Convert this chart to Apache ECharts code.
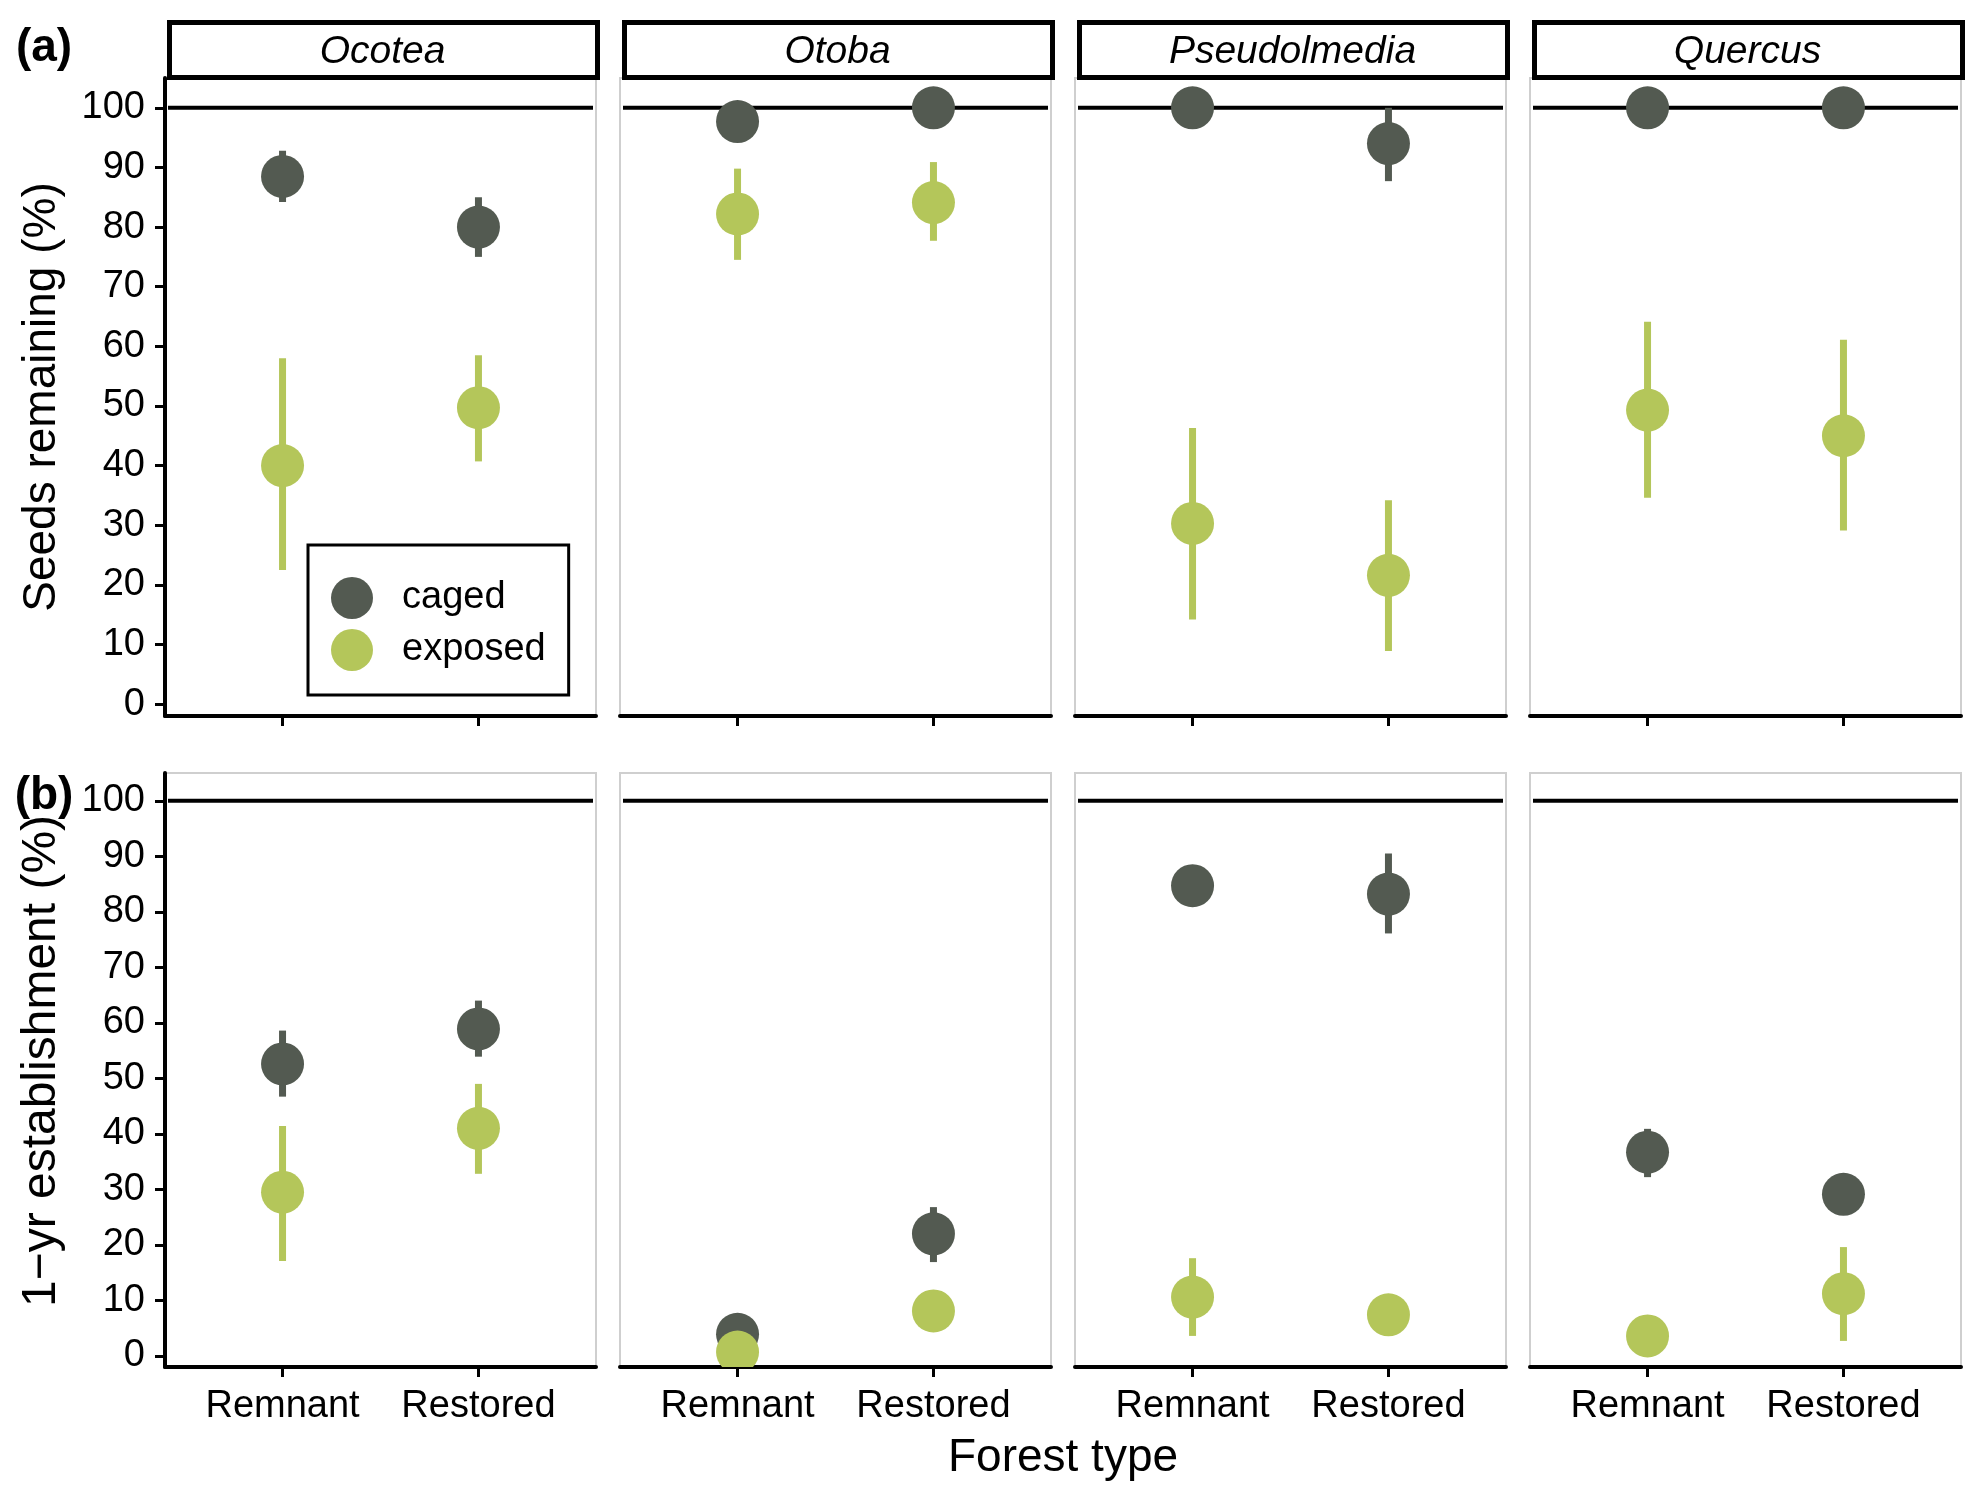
<!DOCTYPE html>
<html>
<head>
<meta charset="utf-8">
<script src="https://cdn.jsdelivr.net/npm/echarts@6/dist/echarts.min.js"></script>
<style>
html,body{margin:0;padding:0;background:#fff;}
#chart{width:1984px;height:1506px;}
</style>
</head>
<body>
<div id="chart"></div>
<script>
// ---------------- DATA ----------------
const species = ['Ocotea', 'Otoba', 'Pseudolmedia', 'Quercus'];
const forestTypes = ['Remnant', 'Restored'];
const groups = ['caged', 'exposed'];
const yTickValues = [0, 10, 20, 30, 40, 50, 60, 70, 80, 90, 100];
const referenceValue = 100;

// (a) Seeds remaining (%) — per species: [Remnant, Restored]
const seedsCagedMean   = [[88.5, 80.0], [97.7, 100], [100, 94.0], [100, 100]];
const seedsCagedLow    = [[84.2, 75.0], [null, null], [null, 87.7], [null, null]];
const seedsCagedHigh   = [[92.8, 85.0], [null, null], [null, 100], [null, null]];
const seedsExposedMean = [[40.0, 49.7], [82.2, 84.1], [30.3, 21.6], [49.3, 45.0]];
const seedsExposedLow  = [[22.5, 40.7], [74.5, 77.7], [14.2, 8.9], [34.6, 29.1]];
const seedsExposedHigh = [[58.0, 58.5], [89.8, 90.9], [46.3, 34.2], [64.1, 61.1]];

// (b) 1-yr establishment (%) — per species: [Remnant, Restored]
const estCagedMean   = [[52.6, 58.9], [3.9, 22.0], [84.7, 83.2], [36.7, 29.1]];
const estCagedLow    = [[46.7, 53.9], [null, 16.9], [null, 76.1], [32.2, null]];
const estCagedHigh   = [[58.6, 64.0], [null, 26.8], [null, 90.5], [40.9, null]];
const estExposedMean = [[29.5, 41.0], [0.7, 8.1], [10.6, 7.4], [3.6, 11.2]];
const estExposedLow  = [[17.1, 32.8], [null, null], [3.6, null], [null, 2.7]];
const estExposedHigh = [[41.4, 49.0], [null, null], [17.6, null], [null, 19.6]];

// ---------------- STYLE / LAYOUT ----------------
const FONT = 'Liberation Sans, Arial, Helvetica, sans-serif';
const COLORS = { caged: '#535a51', exposed: '#b4c65a' };
const COL_LEFT = [165, 620, 1075, 1530];
const COL_W = 431;
const ROW_TOP = [78, 773];
const ROW_H = [638, 594];
const Y_MIN = -2, Y_MAX = 105;
const X_MIN = 0.4, X_MAX = 2.6;
const POINT_R = 21.5;
const BAR_W = 7;

const rows = [
  { caged: [seedsCagedMean, seedsCagedLow, seedsCagedHigh],
    exposed: [seedsExposedMean, seedsExposedLow, seedsExposedHigh] },
  { caged: [estCagedMean, estCagedLow, estCagedHigh],
    exposed: [estExposedMean, estExposedLow, estExposedHigh] }
];

const grids = [], xAxes = [], yAxes = [], series = [], graphics = [];

function pointRender(color) {
  return function (params, api) {
    const x = api.value(0), m = api.value(1), lo = api.value(2), hi = api.value(3);
    const c = api.coord([x, m]);
    const children = [];
    if (hi > lo) {
      const p1 = api.coord([x, lo]), p2 = api.coord([x, hi]);
      children.push({ type: 'line', shape: { x1: p1[0], y1: p1[1], x2: p2[0], y2: p2[1] },
        style: { stroke: color, lineWidth: BAR_W, lineCap: 'butt' } });
    }
    children.push({ type: 'circle', shape: { cx: c[0], cy: c[1], r: POINT_R }, style: { fill: color } });
    return { type: 'group', children: children };
  };
}

function refRender(params, api) {
  const cs = params.coordSys;
  const y = api.coord([X_MIN, api.value(0)])[1];
  return { type: 'line', shape: { x1: cs.x + 3, y1: y, x2: cs.x + cs.width - 3, y2: y },
    style: { stroke: '#000', lineWidth: 4 } };
}

let gi = 0;
for (let r = 0; r < 2; r++) {
  for (let c = 0; c < 4; c++) {
    grids.push({ left: COL_LEFT[c], top: ROW_TOP[r], width: COL_W, height: ROW_H[r],
      show: true, borderColor: '#cfcfcf', borderWidth: 2, backgroundColor: 'transparent',
      containLabel: false, outerBoundsMode: 'none' });
    xAxes.push({
      type: 'value', gridIndex: gi, min: X_MIN, max: X_MAX,
      axisLine: { show: true, onZero: false, lineStyle: { color: '#000', width: 4 } },
      axisTick: { show: true, customValues: [1, 2], length: 10, lineStyle: { color: '#000', width: 3 } },
      axisLabel: { show: r === 1, customValues: [1, 2], margin: 21, fontSize: 38, fontFamily: FONT, color: '#000',
        formatter: v => forestTypes[Math.round(v) - 1] || '' },
      splitLine: { show: false }
    });
    yAxes.push({
      type: 'value', gridIndex: gi, min: Y_MIN, max: Y_MAX,
      axisLine: { show: c === 0, onZero: false, lineStyle: { color: '#000', width: 4 } },
      axisTick: { show: c === 0, customValues: yTickValues, length: 10, lineStyle: { color: '#000', width: 3 } },
      axisLabel: { show: c === 0, customValues: yTickValues, margin: 20, fontSize: 38, fontFamily: FONT, color: '#000' },
      splitLine: { show: false }
    });
    series.push({ type: 'custom', name: 'ref', xAxisIndex: gi, yAxisIndex: gi, z: 1, silent: true,
      data: [[referenceValue]], renderItem: refRender });
    groups.forEach(function (g, k) {
      const arrs = rows[r][g];
      const data = forestTypes.map(function (ft, i) {
        const m = arrs[0][c][i];
        const lo = arrs[1][c][i] == null ? m : arrs[1][c][i];
        const hi = arrs[2][c][i] == null ? m : arrs[2][c][i];
        return [i + 1, m, lo, hi];
      });
      series.push({ type: 'custom', name: g, xAxisIndex: gi, yAxisIndex: gi, z: 2 + k, clip: true,
        itemStyle: { color: COLORS[g] }, data: data, renderItem: pointRender(COLORS[g]) });
    });
    gi++;
  }
}

// strips
species.forEach(function (sp, c) {
  graphics.push({ type: 'rect', left: COL_LEFT[c] + 2, top: 20,
    shape: { width: COL_W - 3, height: 55 },
    style: { fill: '#fff', stroke: '#000', lineWidth: 5 }, z: 10 });
  graphics.push({ type: 'text', x: COL_LEFT[c] + 2 + COL_W / 2, y: 52, z: 11,
    style: { text: sp, font: 'italic 39px ' + FONT, fill: '#000', align: 'center', verticalAlign: 'middle' } });
});

graphics.push({ type: 'text', x: 44, y: 48, z: 11,
  style: { text: '(a)', font: 'bold 46px ' + FONT, fill: '#000', align: 'center', verticalAlign: 'middle' } });
graphics.push({ type: 'text', x: 44, y: 796, z: 11,
  style: { text: '(b)', font: 'bold 46px ' + FONT, fill: '#000', align: 'center', verticalAlign: 'middle' } });
graphics.push({ type: 'text', x: 42, y: 397, rotation: Math.PI / 2, z: 11,
  style: { text: 'Seeds remaining (%)', font: '46px ' + FONT, fill: '#000', align: 'center', verticalAlign: 'middle' } });
graphics.push({ type: 'text', x: 42, y: 1061, rotation: Math.PI / 2, z: 11,
  style: { text: '1\u2212yr establishment (%)', font: '48px ' + FONT, fill: '#000', align: 'center', verticalAlign: 'middle' } });
graphics.push({ type: 'text', x: 1063, y: 1458, z: 11,
  style: { text: 'Forest type', font: '46px ' + FONT, fill: '#000', align: 'center', verticalAlign: 'middle' } });

const chart = echarts.init(document.getElementById('chart'), null, { renderer: 'canvas' });
chart.setOption({
  animation: false,
  backgroundColor: '#fff',
  grid: grids,
  xAxis: xAxes,
  yAxis: yAxes,
  legend: {
    data: groups, orient: 'vertical', left: 308, top: 545,
    icon: 'circle', itemWidth: 42, itemHeight: 42, itemGap: 10,
    padding: [32, 23, 24, 23],
    borderColor: '#000', borderWidth: 3, backgroundColor: '#fff',
    textStyle: { fontSize: 38, fontFamily: FONT, color: '#000', padding: [0, 0, 0, 24] },
    selectedMode: false
  },
  graphic: graphics,
  series: series
});
</script>
</body>
</html>
